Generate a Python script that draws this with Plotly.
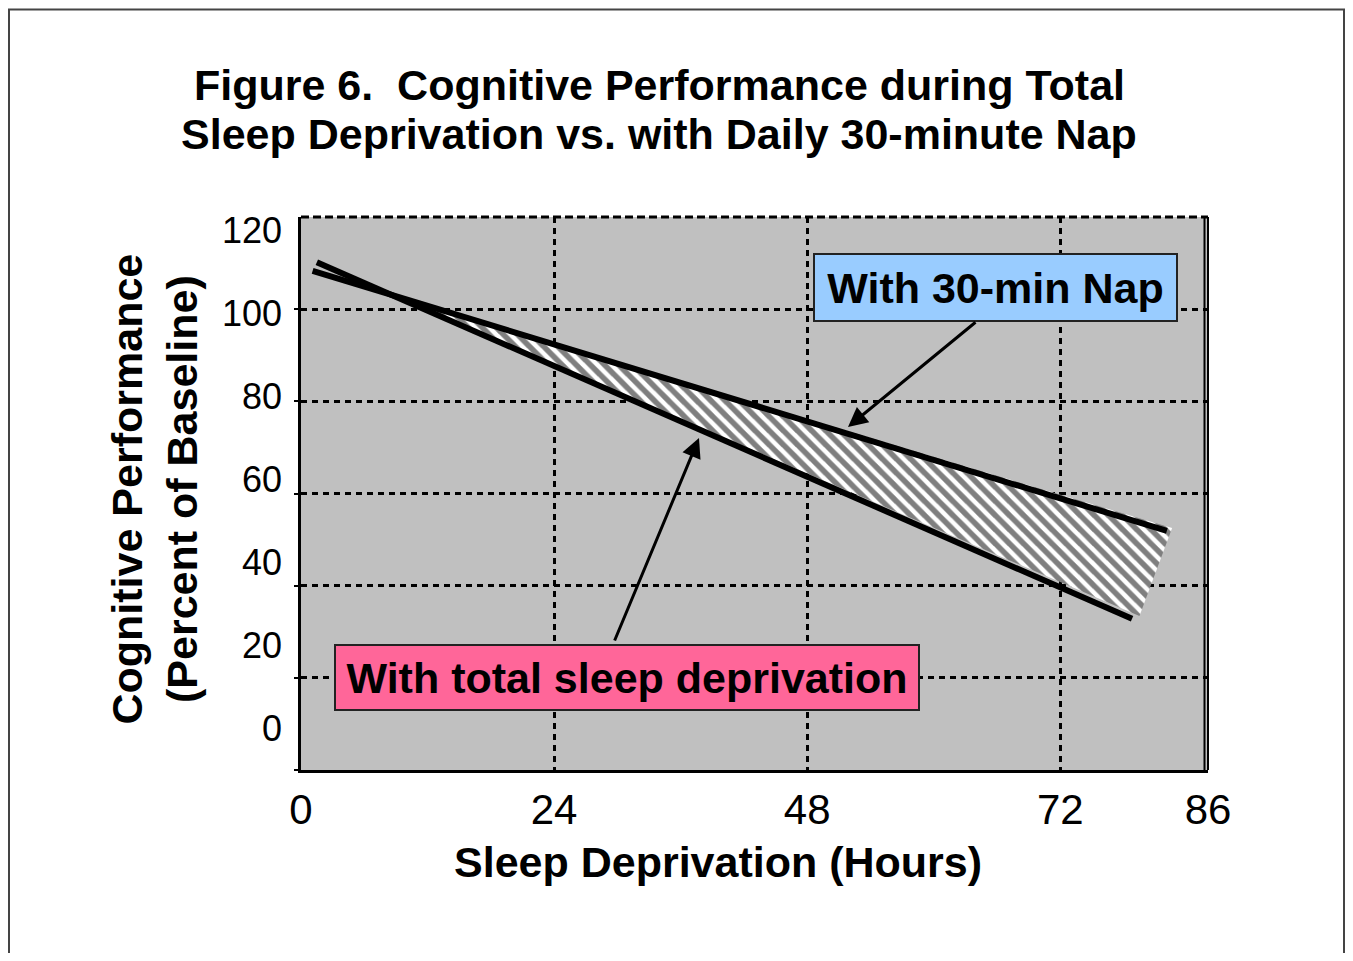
import plotly.graph_objects as go

# ---------------- data ----------------
hours_total = [1.5, 78.8]        # total sleep deprivation line (hours)
perf_total = [110.2, 32.8]       # percent of baseline
hours_nap = [1.1, 82.1]          # with daily 30-min nap
perf_nap = [108.3, 51.9]
band_end_hours = [82.6, 79.5]    # right edge of hatched band (nap side, deprivation side)
band_end_perf = [52.5, 33.4]

x_tick_vals = [0, 24, 48, 72, 86]
x_tick_text = ["0", "24", "48", "72", "86"]
y_grid_vals = [0, 20, 40, 60, 80, 100]
y_label_vals = [0, 20, 40, 60, 80, 100, 120]
y_label_text = ["0", "20", "40", "60", "80", "100", "120"]

title_lines = ["Figure 6.\u00a0 Cognitive Performance during Total",
               "Sleep Deprivation vs. with Daily 30-minute Nap"]
x_title = "Sleep Deprivation (Hours)"
y_title = "Cognitive Performance<br>(Percent of Baseline)"
nap_label = "With 30-min Nap"
total_label = "With total sleep deprivation"

# ---------------- geometry ----------------
PAGE = 8                      # browser body margin
W, H = 1353 - PAGE, 961 - 2 * PAGE
L, R, T, B = 301, 1208, 217, 770   # plot area in screenshot pixels
FONT = "Liberation Sans, Arial, Helvetica, sans-serif"


def px_x(p):
    return (p - L) / (R - L)


def px_y(p):
    return (B - p) / (B - T)


def hx(p):
    return px_x(p) * 86


def vy(p):
    return px_y(p) * 120


# crossing point of the two lines (start of hatched band)
s_t = (perf_total[1] - perf_total[0]) / (hours_total[1] - hours_total[0])
s_n = (perf_nap[1] - perf_nap[0]) / (hours_nap[1] - hours_nap[0])
b_t = perf_total[0] - s_t * hours_total[0]
b_n = perf_nap[0] - s_n * hours_nap[0]
cross_x = (b_n - b_t) / (s_t - s_n)
cross_y = s_t * cross_x + b_t

fig = go.Figure()

fig.add_trace(go.Scatter(
    x=[cross_x, band_end_hours[0], band_end_hours[1], cross_x],
    y=[cross_y, band_end_perf[0], band_end_perf[1], cross_y],
    mode="lines", fill="toself", fillcolor="white",
    fillpattern=dict(shape="\\", fgcolor="black", bgcolor="white", size=10, solidity=0.55),
    line=dict(width=0, color="black"), hoverinfo="skip", showlegend=False))

fig.add_trace(go.Scatter(x=hours_nap, y=perf_nap, mode="lines",
                         line=dict(color="black", width=6), showlegend=False, hoverinfo="skip"))
fig.add_trace(go.Scatter(x=hours_total, y=perf_total, mode="lines",
                         line=dict(color="black", width=6), showlegend=False, hoverinfo="skip"))
fig.add_trace(go.Scatter(x=[None], y=[None], yaxis="y2", showlegend=False, hoverinfo="skip"))

grid = dict(showgrid=True, gridcolor="black", gridwidth=2.5, griddash="6px,5px")

fig.update_layout(
    width=W, height=H,
    margin=dict(l=L - PAGE, r=(W + PAGE) - R, t=T - PAGE, b=(H + PAGE) - B),
    paper_bgcolor="white", plot_bgcolor="#C0C0C0",
    font=dict(family=FONT, color="black"),
    showlegend=False,
    xaxis=dict(range=[0, 86], tickvals=x_tick_vals, ticktext=x_tick_text,
               tickfont=dict(size=42, family=FONT, color="black"), ticks="",
               ticklabelstandoff=1,
               showline=True, linecolor="black", linewidth=3, zeroline=False, **grid),
    yaxis=dict(range=[0, 120], tickvals=y_grid_vals, showticklabels=False,
               ticks="outside", ticklen=4, tickwidth=2, tickcolor="black",
               showline=True, linecolor="black", linewidth=3, zeroline=False, **grid),
    yaxis2=dict(overlaying="y", side="left", anchor="x", range=[-10, 123.25],
                tickvals=y_label_vals, ticktext=y_label_text,
                tickfont=dict(size=36, family=FONT, color="black"),
                ticks="", ticklabelstandoff=18,
                showgrid=False, showline=False, zeroline=False),
)

shapes = [
    # outer frame
    dict(type="rect", xref="paper", yref="paper",
         x0=px_x(9), x1=px_x(1344), y0=px_y(990), y1=px_y(9.5),
         line=dict(color="#444444", width=2), fillcolor="rgba(0,0,0,0)", layer="above"),
    # top dashed border
    dict(type="line", xref="paper", yref="paper", x0=0, x1=1, y0=1, y1=1,
         line=dict(color="black", width=3, dash="8px,4px"), layer="above"),
    # right double border
    dict(type="line", xref="paper", yref="paper", x0=1, x1=1, y0=0, y1=1,
         line=dict(color="black", width=2), layer="above"),
    dict(type="line", xref="paper", yref="paper", x0=px_x(1204.5), x1=px_x(1204.5), y0=0, y1=1,
         line=dict(color="black", width=2), layer="above"),
]
fig.update_layout(shapes=shapes)

BIG = 43
ann = []
ann.append(dict(xref="paper", yref="paper", x=px_x(659), y=px_y(85), text="<b>%s</b>" % title_lines[0],
                showarrow=False, font=dict(size=BIG, family=FONT, color="black"),
                xanchor="center", yanchor="middle"))
ann.append(dict(xref="paper", yref="paper", x=px_x(658.5), y=px_y(134), text="<b>%s</b>" % title_lines[1],
                showarrow=False, font=dict(size=BIG, family=FONT, color="black"),
                xanchor="center", yanchor="middle"))
ann.append(dict(xref="paper", yref="paper", x=px_x(718), y=px_y(862), text="<b>%s</b>" % x_title,
                showarrow=False, font=dict(size=BIG, family=FONT, color="black"),
                xanchor="center", yanchor="middle"))
ann.append(dict(xref="paper", yref="paper", x=px_x(154.5), y=px_y(489), text="<b>%s</b>" % y_title,
                showarrow=False, textangle=-90, font=dict(size=BIG, family=FONT, color="black"),
                xanchor="center", yanchor="middle"))
# label boxes
ann.append(dict(xref="paper", yref="paper", x=px_x(995.5), y=px_y(287.5), text="<b>%s</b>" % nap_label,
                showarrow=False, font=dict(size=BIG, family=FONT, color="black"),
                bgcolor="#99CCFF", bordercolor="#222222", borderwidth=2, borderpad=0,
                width=361, height=65, xanchor="center", yanchor="middle"))
ann.append(dict(xref="paper", yref="paper", x=px_x(627), y=px_y(677.5), text="<b>%s</b>" % total_label,
                showarrow=False, font=dict(size=BIG, family=FONT, color="black"),
                bgcolor="#FF6699", bordercolor="#222222", borderwidth=2, borderpad=0,
                width=582, height=63, xanchor="center", yanchor="middle"))

# arrows
ann.append(dict(xref="x", yref="y", axref="x", ayref="y",
                x=hx(848), y=vy(427), ax=hx(977), ay=vy(321), text="",
                showarrow=True, arrowhead=2, arrowsize=1.3, arrowwidth=3, arrowcolor="black",
                standoff=0, startstandoff=0))
ann.append(dict(xref="x", yref="y", axref="x", ayref="y",
                x=hx(699), y=vy(438), ax=hx(614), ay=vy(642), text="",
                showarrow=True, arrowhead=2, arrowsize=1.3, arrowwidth=3, arrowcolor="black",
                standoff=0, startstandoff=0))
fig.update_layout(annotations=ann)

fig.write_html("out.html")
